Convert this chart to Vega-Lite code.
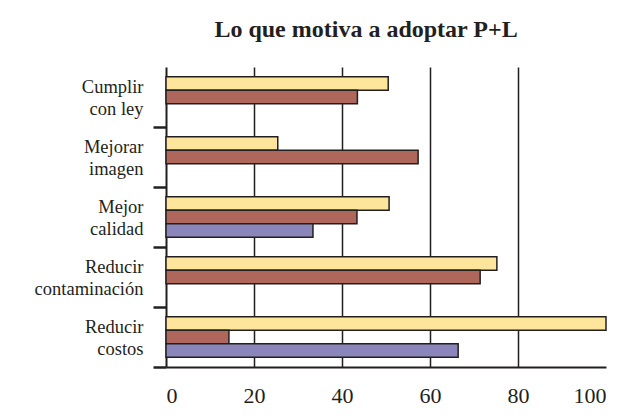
{
  "$schema": "https://vega.github.io/schema/vega-lite/v6.json",
  "autosize": "none",
  "width": 440,
  "height": 300,
  "padding": {"left": 166, "top": 67, "right": 38, "bottom": 53},
  "background": "white",
  "title": {
    "text": "Lo que motiva a adoptar P+L",
    "font": "Liberation Serif",
    "fontSize": 24,
    "fontWeight": "bold",
    "color": "#231f20",
    "anchor": "middle",
    "baseline": "alphabetic",
    "dx": -20,
    "offset": 6
  },
  "data": {
    "values": [
      {"motivo": "Cumplir con ley", "serie": "Serie 1", "valor": 50.5},
      {"motivo": "Cumplir con ley", "serie": "Serie 2", "valor": 43.5},
      {"motivo": "Mejorar imagen", "serie": "Serie 1", "valor": 25.4},
      {"motivo": "Mejorar imagen", "serie": "Serie 2", "valor": 57.3},
      {"motivo": "Mejor calidad", "serie": "Serie 1", "valor": 50.7},
      {"motivo": "Mejor calidad", "serie": "Serie 2", "valor": 43.4},
      {"motivo": "Mejor calidad", "serie": "Serie 3", "valor": 33.4},
      {"motivo": "Reducir contaminación", "serie": "Serie 1", "valor": 75.2},
      {"motivo": "Reducir contaminación", "serie": "Serie 2", "valor": 71.4},
      {"motivo": "Reducir costos", "serie": "Serie 1", "valor": 100},
      {"motivo": "Reducir costos", "serie": "Serie 2", "valor": 14.3},
      {"motivo": "Reducir costos", "serie": "Serie 3", "valor": 66.4}
    ]
  },
  "mark": {"type": "bar", "stroke": "#231f20", "strokeWidth": 1.5, "cornerRadius": 0},
  "encoding": {
    "y": {
      "field": "motivo",
      "type": "nominal",
      "sort": null,
      "scale": {"paddingInner": 0.325, "paddingOuter": 0.1625},
      "axis": {
        "title": null,
        "domain": true,
        "domainColor": "#231f20",
        "domainWidth": 2,
        "ticks": true,
        "tickColor": "#231f20",
        "tickWidth": 2.5,
        "tickSize": 13,
        "tickOffset": 0,
        "bandPosition": 1.2407,
        "grid": false,
        "labelFont": "Liberation Serif",
        "labelFontSize": 18.5,
        "labelColor": "#231f20",
        "labelAlign": "right",
        "labelBaseline": "middle",
        "labelLineHeight": 22,
        "labelOffset": -11,
        "labelPadding": 10,
        "labelExpr": "[substring(datum.label, 0, indexof(datum.label, ' ')), substring(datum.label, indexof(datum.label, ' ') + 1)]"
      }
    },
    "yOffset": {
      "field": "serie",
      "type": "nominal",
      "scale": {"domain": ["Serie 1", "Serie 2", "Serie 3"], "paddingInner": 0, "paddingOuter": 0}
    },
    "x": {
      "field": "valor",
      "type": "quantitative",
      "scale": {"domain": [0, 100], "nice": false},
      "axis": {
        "title": null,
        "values": [0, 20, 40, 60, 80, 100],
        "grid": true,
        "gridColor": "#231f20",
        "gridWidth": 1.5,
        "gridOpacity": {"condition": {"test": "datum.value == 100 || datum.value == 0", "value": 0}, "value": 1},
        "domain": true,
        "domainColor": "#231f20",
        "domainWidth": 2,
        "ticks": false,
        "labelFont": "Liberation Serif",
        "labelFontSize": 22,
        "labelColor": "#231f20",
        "labelPadding": 18
      }
    },
    "color": {
      "field": "serie",
      "type": "nominal",
      "scale": {"domain": ["Serie 1", "Serie 2", "Serie 3"], "range": ["#fde69b", "#b0675b", "#8a86ba"]},
      "legend": null
    }
  },
  "config": {"view": {"stroke": null}}
}
